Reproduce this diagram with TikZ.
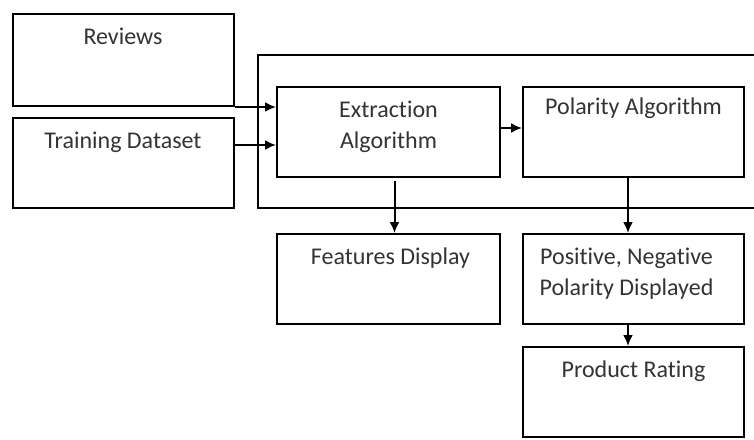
\documentclass[tikz,border=0pt]{standalone}
\usepackage{fontspec}
\setmainfont[Ligatures=NoCommon]{Carlito}
\usetikzlibrary{arrows.meta}
\begin{document}
\begin{tikzpicture}[x=1pt,y=-1pt,
  box/.style={draw,line width=2pt,minimum width=221pt,minimum height=90pt,inner sep=0pt},
  title/.style={anchor=north,yshift=-15pt,inner sep=0pt,align=center,text=black!80,
    font=\fontsize{24}{31}\selectfont},
  arr/.style={line width=2pt,-{Latex[length=11pt,width=10pt]}}]
\useasboundingbox (0,0) rectangle (754,439);
\node[box,minimum width=504pt,minimum height=153pt] (frame) at (510,131.5) {};
\node[box,minimum height=92pt] (reviews) at (123,60) {};
\node[title] at (reviews.north) {Reviews};
\node[box] (training) at (123,163) {};
\node[title] at (training.north) {Training Dataset};
\node[box,minimum width=223pt] (extract) at (388.5,132) {};
\node[title] at (extract.north) {Extraction\\Algorithm};
\node[box] (polar) at (633.5,131.5) {};
\node[title,yshift=3pt] at (polar.north) {Polarity Algorithm};
\node[box,minimum width=223pt] (feat) at (388.5,279) {};
\node[title,xshift=2pt] at (feat.north) {Features Display};
\node[box] (posneg) at (633.5,279) {};
\node[title,xshift=-7pt] at (posneg.north) {Positive, Negative\\Polarity Displayed};
\node[box] (rating) at (633.5,392) {};
\node[title] at (rating.north) {Product Rating};
% connectors
\draw[arr] (reviews.south east) -- (reviews.south east -| extract.west);
\draw[arr] ([yshift=18pt]training.east) -- ([yshift=18pt]training.east -| extract.west);
\draw[arr] ([yshift=4pt]extract.east) -- ([yshift=4pt]extract.east -| polar.west);
\draw[arr] ([xshift=6pt,yshift=-3pt]extract.south) -- ([xshift=6pt]feat.north);
\draw[arr] ([xshift=-5.5pt]polar.south) -- ([xshift=-5.5pt]posneg.north);
\draw[arr] ([xshift=-5.5pt]posneg.south) -- ([xshift=-5.5pt]rating.north);
\end{tikzpicture}
\end{document}
